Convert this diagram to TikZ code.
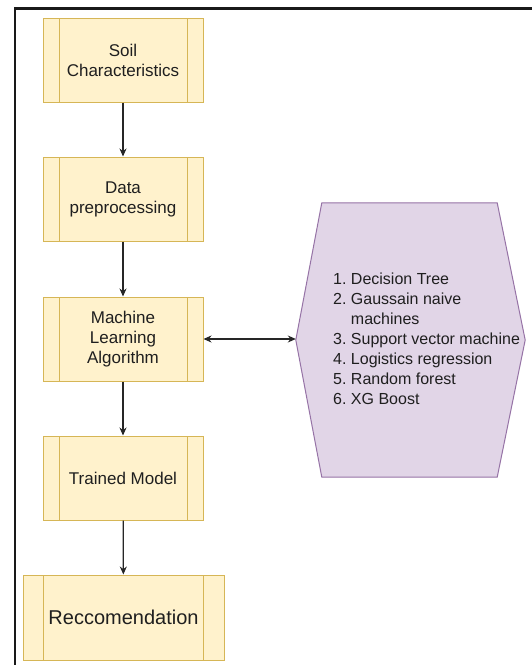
\documentclass[tikz,border=0pt]{standalone}
\usepackage{fontspec}
\setmainfont{Liberation Sans}
\usetikzlibrary{arrows.meta,calc}
\definecolor{procfill}{HTML}{FFF2CC}
\definecolor{procdraw}{HTML}{D6B656}
\definecolor{hexfill}{HTML}{E1D5E7}
\definecolor{hexdraw}{HTML}{9673A6}
\begin{document}
\begin{tikzpicture}[x=1pt,y=-1pt,
  procbox/.style={draw=procdraw, fill=procfill, line width=1pt,
    minimum width=160pt, minimum height=84pt, align=center, inner sep=0pt,
    font=\fontsize{17}{20}\selectfont, text=black!88,
    path picture={\draw[procdraw, line width=1pt]
      ($(path picture bounding box.north west)!0.1!(path picture bounding box.north east)$) --
      ($(path picture bounding box.south west)!0.1!(path picture bounding box.south east)$)
      ($(path picture bounding box.north east)!0.1!(path picture bounding box.north west)$) --
      ($(path picture bounding box.south east)!0.1!(path picture bounding box.south west)$);}},
  flow/.style={-{Stealth[length=8pt,width=7pt]}, line width=1.2pt, black!85},
  twoway/.style={{Stealth[length=8pt,width=7pt]}-{Stealth[length=8pt,width=7pt]}, line width=1.2pt, black!85}]
\useasboundingbox (0,0) rectangle (531,665);
\fill[white] (0,0) rectangle (531,665);
% frame
\draw[line width=2.6pt, black!90] (15,670) -- (15,8.5) -- (540,8.5);
% process boxes
\node[procbox] (soil) at (123,60) {Soil\\Characteristics};
\node[procbox] (prep) at (123,199) {Data\\preprocessing};
\node[procbox] (mla) at (123,339) {Machine\\Learning\\Algorithm};
\node[procbox] (model) at (123,478) {Trained Model};
\node[procbox, minimum width=201pt, minimum height=85pt, font=\fontsize{20}{24}\selectfont] (rec) at (123.5,617.5) {Reccomendation};
% hexagon
\node[minimum width=229pt, minimum height=274pt, inner sep=0pt] (hex) at (410.5,340) {};
\draw[hexdraw, fill=hexfill, line width=1pt] (hex.west) -- ($(hex.north west)+(26,0)$) -- ($(hex.north east)+(-28,0)$) -- (hex.east) -- ($(hex.south east)+(-28,0)$) -- ($(hex.south west)+(26,0)$) -- cycle;
\node[anchor=west, inner sep=0pt, font=\fontsize{16}{20}\selectfont, text=black!88] (algos) at (333,340) {\begin{tabular}{@{}l@{\ }l@{}}
1. & Decision Tree\\
2. & Gaussain naive\\
   & machines\\
3. & Support vector machine\\
4. & Logistics regression\\
5. & Random forest\\
6. & XG Boost
\end{tabular}};
% connectors
\draw[flow] (soil) -- (prep);
\draw[flow] (prep) -- (mla);
\draw[flow] (mla) -- (model);
\draw[flow] (model) -- (rec);
\draw[twoway] (mla.east) -- (mla.east -| hex.west);
\end{tikzpicture}
\end{document}
